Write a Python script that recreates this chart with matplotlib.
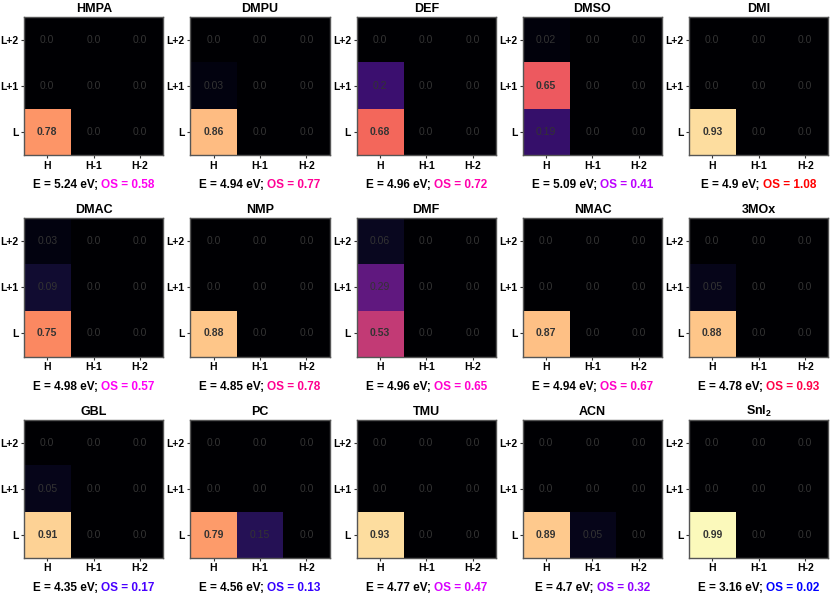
import numpy as np
import matplotlib
matplotlib.use("Agg")
import matplotlib.pyplot as plt
from matplotlib.colors import LinearSegmentedColormap, Normalize

plt.rcParams['font.family'] = ['Liberation Sans', 'DejaVu Sans']
plt.rcParams['mathtext.fontset'] = 'custom'
plt.rcParams['mathtext.rm'] = 'Liberation Sans:bold'
plt.rcParams['mathtext.bf'] = 'Liberation Sans:bold'

# solvents in panel order
solvents = ["HMPA", "DMPU", "DEF", "DMSO", "DMI",
            "DMAC", "NMP", "DMF", "NMAC", "3MOx",
            "GBL", "PC", "TMU", "ACN", r"SnI$_\mathbf{2}$"]

# excitation energies (eV) and oscillator strengths
energy = [5.24, 4.94, 4.96, 5.09, 4.9,
          4.98, 4.85, 4.96, 4.94, 4.78,
          4.35, 4.56, 4.77, 4.7, 3.16]
osc = [0.58, 0.77, 0.72, 0.41, 1.08,
       0.57, 0.78, 0.65, 0.67, 0.93,
       0.17, 0.13, 0.47, 0.32, 0.02]

row_labels = ["L+2", "L+1", "L"]
col_labels = ["H", "H-1", "H-2"]

# transition weights, rows L+2, L+1, L ; columns H, H-1, H-2
weights = [
    [[0.0, 0.0, 0.0], [0.0, 0.0, 0.0], [0.78, 0.0, 0.0]],
    [[0.0, 0.0, 0.0], [0.03, 0.0, 0.0], [0.86, 0.0, 0.0]],
    [[0.0, 0.0, 0.0], [0.2, 0.0, 0.0], [0.68, 0.0, 0.0]],
    [[0.02, 0.0, 0.0], [0.65, 0.0, 0.0], [0.19, 0.0, 0.0]],
    [[0.0, 0.0, 0.0], [0.0, 0.0, 0.0], [0.93, 0.0, 0.0]],
    [[0.03, 0.0, 0.0], [0.09, 0.0, 0.0], [0.75, 0.0, 0.0]],
    [[0.0, 0.0, 0.0], [0.0, 0.0, 0.0], [0.88, 0.0, 0.0]],
    [[0.06, 0.0, 0.0], [0.29, 0.0, 0.0], [0.53, 0.0, 0.0]],
    [[0.0, 0.0, 0.0], [0.0, 0.0, 0.0], [0.87, 0.0, 0.0]],
    [[0.0, 0.0, 0.0], [0.05, 0.0, 0.0], [0.88, 0.0, 0.0]],
    [[0.0, 0.0, 0.0], [0.05, 0.0, 0.0], [0.91, 0.0, 0.0]],
    [[0.0, 0.0, 0.0], [0.0, 0.0, 0.0], [0.79, 0.15, 0.0]],
    [[0.0, 0.0, 0.0], [0.0, 0.0, 0.0], [0.93, 0.0, 0.0]],
    [[0.0, 0.0, 0.0], [0.0, 0.0, 0.0], [0.89, 0.05, 0.0]],
    [[0.0, 0.0, 0.0], [0.0, 0.0, 0.0], [0.99, 0.0, 0.0]],
]

os_cmap = LinearSegmentedColormap.from_list("os", ["blue", "magenta", "red"])
os_norm = Normalize(min(osc), max(osc))

fig, axes = plt.subplots(3, 5, figsize=(8.3, 5.96), dpi=100)
fig.subplots_adjust(left=0.029, right=0.998, top=0.9715, bottom=0.064,
                    wspace=0.194, hspace=0.457)

labels = []
for i, ax in enumerate(axes.flat):
    data = np.array(weights[i])
    ax.imshow(data, cmap="magma", vmin=0, vmax=1, aspect="auto")
    for r in range(3):
        for c in range(3):
            ax.text(c, r, str(data[r, c]), ha="center", va="center",
                    fontsize=7.5, color="#333333",
                    fontweight="bold" if data[r, c] > 0.5 else "normal")
    ax.set_xticks(range(3))
    ax.set_xticklabels(col_labels, fontsize=7.5, fontweight="bold")
    ax.set_yticks(range(3))
    ax.set_yticklabels(row_labels, fontsize=7.5, fontweight="bold")
    ax.tick_params(length=2.5, width=0.8, color="#333333", pad=1.5)
    for sp in ax.spines.values():
        sp.set_color("#555555")
        sp.set_linewidth(1.0)
    ax.set_title(solvents[i], fontsize=9, fontweight="bold", pad=3.5)
    t1 = ax.text(0.5, -0.175, f"E = {energy[i]} eV; ", transform=ax.transAxes,
                 ha="left", va="top", fontsize=8.5, fontweight="bold")
    t2 = ax.text(0.5, -0.175, f"OS = {osc[i]}", transform=ax.transAxes,
                 ha="left", va="top", fontsize=8.5, fontweight="bold",
                 color=os_cmap(os_norm(osc[i])))
    labels.append((ax, t1, t2))

# center the two-coloured label under each panel
fig.canvas.draw()
rend = fig.canvas.get_renderer()
for ax, t1, t2 in labels:
    w1 = t1.get_window_extent(rend).width
    w2 = t2.get_window_extent(rend).width
    axw = ax.get_window_extent(rend).width
    x0 = 0.5 - (w1 + w2) / 2 / axw
    t1.set_x(x0)
    t2.set_x(x0 + w1 / axw)

fig.savefig("out.png", dpi=100)
